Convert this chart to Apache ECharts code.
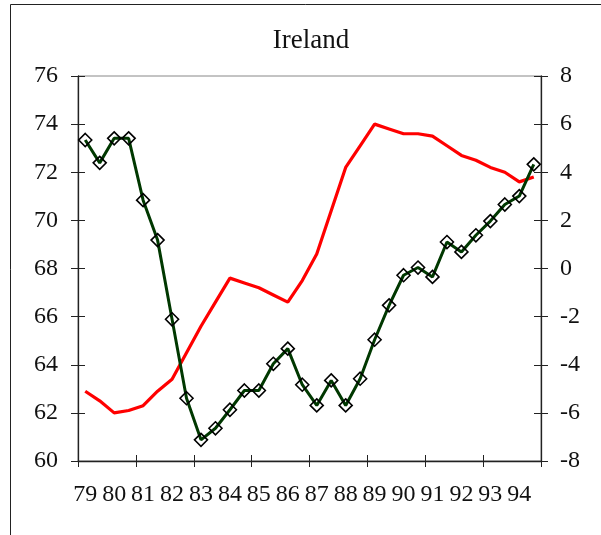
<!DOCTYPE html>
<html>
<head>
<meta charset="utf-8">
<script src="https://cdn.jsdelivr.net/npm/echarts@6/dist/echarts.min.js"></script>
<style>
  html, body { margin: 0; padding: 0; background: #fff; }
  #echart { width: 601px; height: 535px; }
</style>
</head>
<body>
<div id="echart"></div>
<script>
// years shown on the x axis, two observations per year
var yearLabels = ['79','80','81','82','83','84','85','86','87','88','89','90','91','92','93','94'];
var categories = [];
for (var i = 0; i < yearLabels.length; i++) {
    categories.push(yearLabels[i] + 'H1');
    categories.push(yearLabels[i] + 'H2');
}

// red line, left axis
var redValues = [62.9, 62.5, 62.0, 62.1, 62.3, 62.9, 63.4, 64.5, 65.6, 66.6,
                 67.6, 67.4, 67.2, 66.9, 66.6, 67.5, 68.6, 70.4, 72.2, 73.1,
                 74.0, 73.8, 73.6, 73.6, 73.5, 73.1, 72.7, 72.5, 72.2, 72.0,
                 71.6, 71.8];
// black line with diamonds, right axis
var blackValues = [5.34, 4.39, 5.41, 5.41, 2.84, 1.18, -2.11, -5.39, -7.12, -6.64,
                   -5.87, -5.07, -5.07, -3.96, -3.33, -4.83, -5.69, -4.65, -5.69, -4.58,
                   -2.96, -1.53, -0.28, 0.04, -0.35, 1.10, 0.69, 1.38, 1.97, 2.66,
                   3.01, 4.33];

var leftTicks = {min: 60, max: 76, interval: 2};
var rightTicks = {min: -8, max: 8, interval: 2};

var font = 'Liberation Serif';
var myChart = echarts.init(document.getElementById('echart'));

var gridRect = {left: 78, top: 76, width: 463, height: 385};

var option = {
    animation: false,
    backgroundColor: '#fff',
    title: {
        text: 'Ireland',
        left: 306,
        top: 22,
        textAlign: 'center',
        textStyle: {fontFamily: font, fontSize: 27, fontWeight: 'normal', color: '#111'}
    },
    graphic: [{
        type: 'polyline',
        shape: {points: [[10.5, 535], [10.5, 4.5], [601, 4.5]]},
        style: {stroke: '#222', lineWidth: 1, fill: null}
    }],
    grid: [
        Object.assign({show: true, borderColor: '#888', borderWidth: 1, backgroundColor: 'transparent'}, gridRect),
        Object.assign({}, gridRect)
    ],
    xAxis: [
        {
            type: 'category',
            gridIndex: 0,
            data: categories,
            boundaryGap: true,
            axisLine: {onZero: false, lineStyle: {color: '#222', width: 1.3}},
            axisTick: {show: true, interval: 3, length: 6, lineStyle: {color: '#222', width: 1}},
            axisLabel: {
                interval: 1,
                margin: 22,
                fontFamily: font,
                fontSize: 24,
                color: '#111',
                formatter: function (v) { return v.slice(0, 2); }
            },
            splitLine: {show: false}
        },
        {
            type: 'category',
            gridIndex: 1,
            data: categories,
            boundaryGap: true,
            axisLine: {show: false, onZero: false},
            axisTick: {show: true, inside: true, interval: 3, length: 6, lineStyle: {color: '#222', width: 1}},
            axisLabel: {show: false},
            splitLine: {show: false}
        }
    ],
    yAxis: [
        {
            type: 'value',
            gridIndex: 0,
            position: 'left',
            min: leftTicks.min, max: leftTicks.max, interval: leftTicks.interval,
            axisLine: {show: true, onZero: false, lineStyle: {color: '#222', width: 1.3}},
            axisTick: {show: true, length: 7, lineStyle: {color: '#222', width: 1}},
            axisLabel: {margin: 20, fontFamily: font, fontSize: 24, color: '#111'},
            splitLine: {show: false}
        },
        {
            type: 'value',
            gridIndex: 0,
            position: 'right',
            min: rightTicks.min, max: rightTicks.max, interval: rightTicks.interval,
            axisLine: {show: true, onZero: false, lineStyle: {color: '#222', width: 1.3}},
            axisTick: {show: true, length: 7, lineStyle: {color: '#222', width: 1}},
            axisLabel: {margin: 19, fontFamily: font, fontSize: 24, color: '#111'},
            splitLine: {show: false}
        },
        {
            type: 'value',
            gridIndex: 1,
            position: 'left',
            min: leftTicks.min, max: leftTicks.max, interval: leftTicks.interval,
            axisLine: {show: false, onZero: false},
            axisTick: {show: true, inside: true, length: 7, lineStyle: {color: '#222', width: 1}},
            axisLabel: {show: false},
            splitLine: {show: false}
        },
        {
            type: 'value',
            gridIndex: 1,
            position: 'right',
            min: rightTicks.min, max: rightTicks.max, interval: rightTicks.interval,
            axisLine: {show: false, onZero: false},
            axisTick: {show: true, inside: true, length: 7, lineStyle: {color: '#222', width: 1}},
            axisLabel: {show: false},
            splitLine: {show: false}
        }
    ],
    series: [
        {
            name: 'red',
            type: 'line',
            xAxisIndex: 0,
            yAxisIndex: 0,
            data: redValues,
            showSymbol: false,
            symbol: 'none',
            lineStyle: {color: '#ff0000', width: 3.2},
            itemStyle: {color: '#ff0000'}
        },
        {
            name: 'black',
            type: 'line',
            xAxisIndex: 0,
            yAxisIndex: 1,
            data: blackValues,
            symbol: 'diamond',
            symbolSize: [13, 13],
            showAllSymbol: true,
            lineStyle: {color: '#003800', width: 3},
            itemStyle: {color: 'rgba(255,255,255,0)', borderColor: '#000', borderWidth: 1.6}
        }
    ]
};
myChart.setOption(option);
</script>
</body>
</html>
